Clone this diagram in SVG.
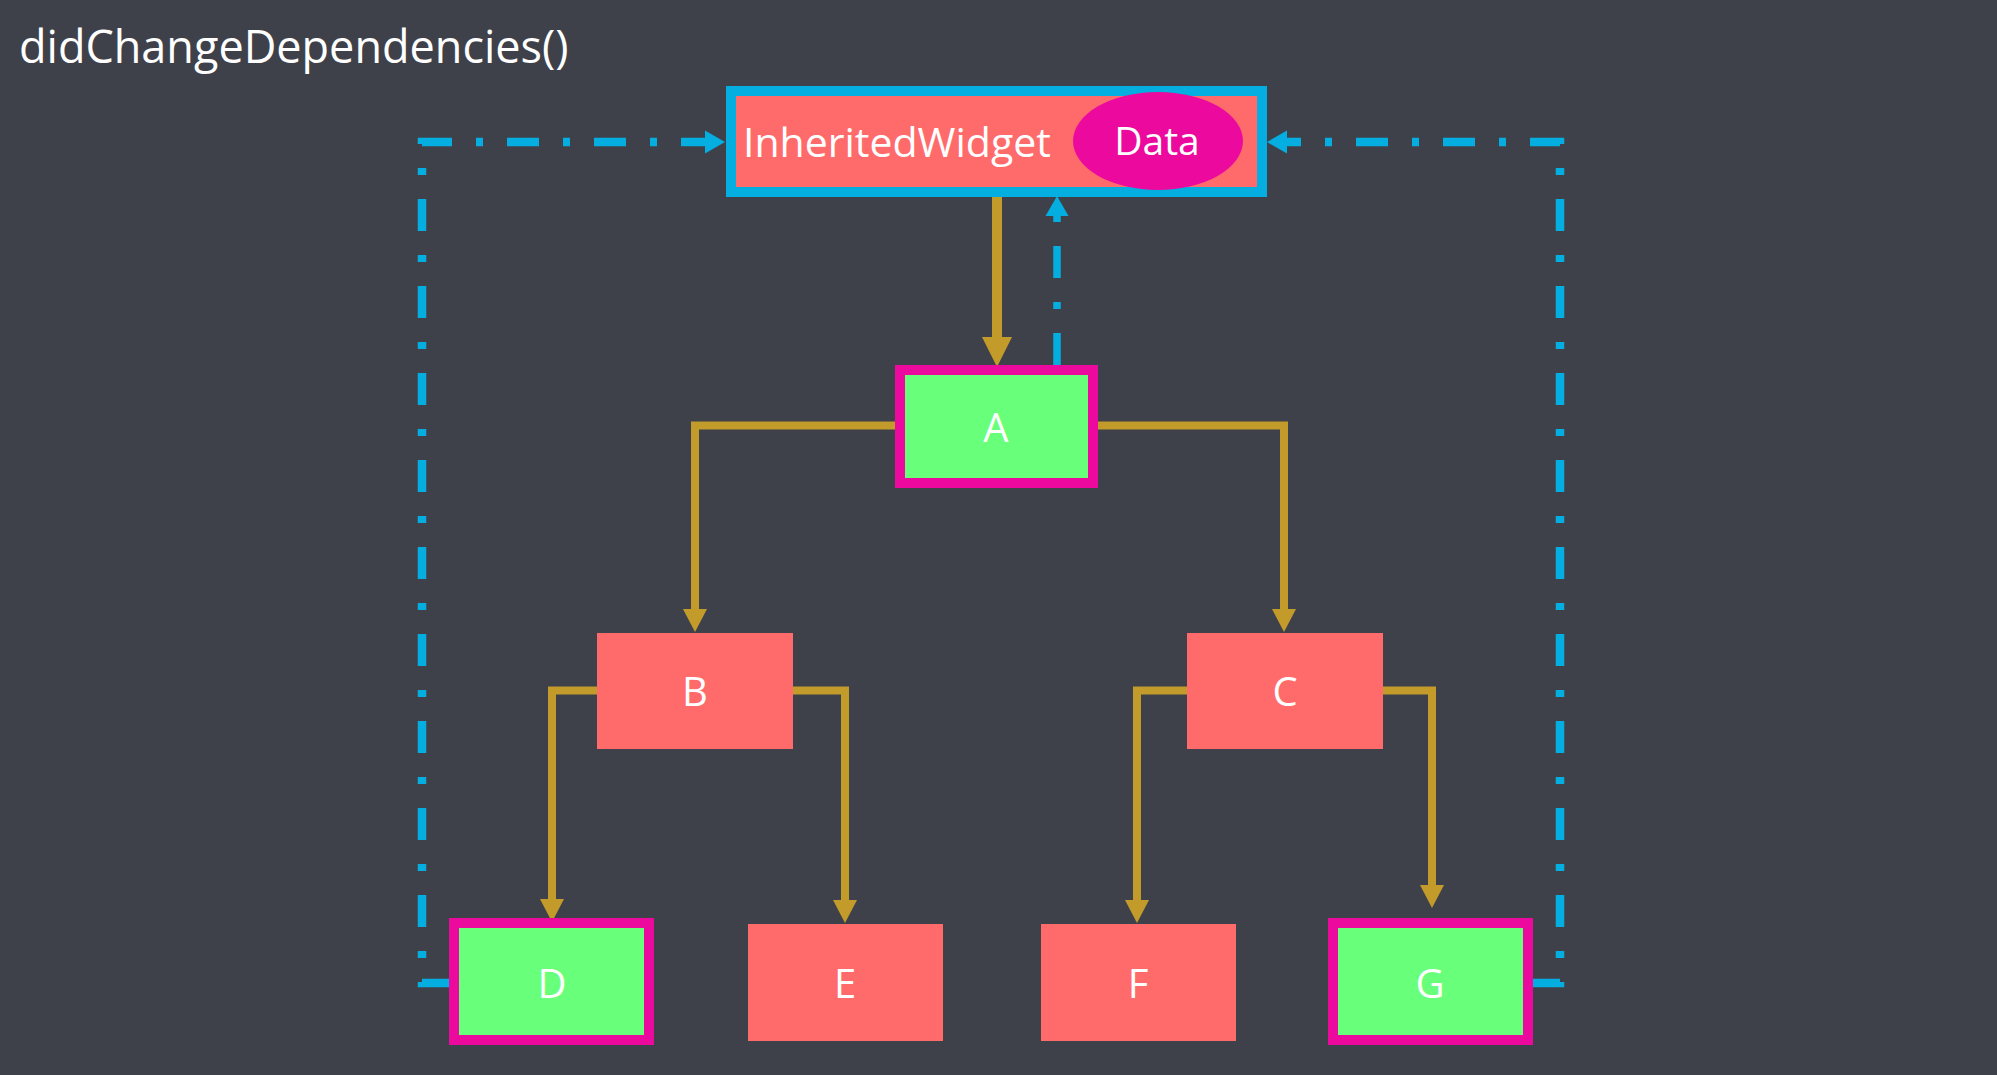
<svg xmlns="http://www.w3.org/2000/svg" width="1997" height="1075" viewBox="0 0 1997 1075">
<style>
.lbl{font-family:"Open Sans","Liberation Sans",sans-serif;fill:#FFFFFF;}
.node{font-size:40px;text-anchor:middle;}
.red{fill:#FF6B6B;}
.hi{fill:#68FF7A;stroke:#EC0A9E;stroke-width:10;}
.gold{fill:none;stroke:#C29B2B;stroke-width:8;}
.blue{fill:none;stroke:#05AEE0;stroke-width:8.5;stroke-dasharray:32 24 7 24;}
</style>
<defs>
<marker id="arB" markerUnits="userSpaceOnUse" markerWidth="20" markerHeight="23" refX="0" refY="11.5" orient="auto" overflow="visible">
<path d="M0,0 L20,11.5 L0,23 z" fill="#05AEE0"/>
</marker>
<marker id="arG" markerUnits="userSpaceOnUse" markerWidth="23" markerHeight="24" refX="0" refY="12" orient="auto" overflow="visible">
<path d="M0,0 L23,12 L0,24 z" fill="#C29B2B"/>
</marker>
<marker id="arGL" markerUnits="userSpaceOnUse" markerWidth="30" markerHeight="30" refX="0" refY="15" orient="auto" overflow="visible">
<path d="M0,0 L30,15 L0,30 z" fill="#C29B2B"/>
</marker>
</defs>
<rect x="0" y="0" width="1997" height="1075" fill="#3F414A"/>
<text class="lbl" x="19" y="63" font-size="45">didChangeDependencies()</text>

<g id="connectors">
<path class="gold" style="stroke-width:10" d="M997,197 V337" marker-end="url(#arGL)"/>
<path class="gold" d="M899,425.5 H695 V609" marker-end="url(#arG)"/>
<path class="gold" d="M1094,425.5 H1284 V609" marker-end="url(#arG)"/>
<path class="gold" d="M597,690.5 H552 V899" marker-end="url(#arG)"/>
<path class="gold" d="M793,690.5 H845 V900" marker-end="url(#arG)"/>
<path class="gold" d="M1187,690.5 H1137 V900" marker-end="url(#arG)"/>
<path class="gold" d="M1383,690.5 H1432 V885" marker-end="url(#arG)"/>
<path class="blue" d="M453,983 H422 V142 H705" marker-end="url(#arB)"/>
<path class="blue" d="M1529,983 H1560 V142 H1287" marker-end="url(#arB)"/>
<path class="blue" style="stroke-width:7.5" d="M1057,365 V216" marker-end="url(#arB)"/>
</g>

<g id="inherited">
<rect x="731" y="91" width="531" height="101" fill="#FF6B6B" stroke="#05AEE0" stroke-width="10"/>
<text class="lbl" x="743" y="157" font-size="41">InheritedWidget</text>
<ellipse cx="1158" cy="141" rx="85" ry="49" fill="#EC0A9E"/>
<text class="lbl" x="1157" y="155" font-size="39" text-anchor="middle">Data</text>
</g>
<g id="nodeA">
<rect class="hi" x="900" y="370" width="193" height="113"/>
<text class="lbl node" x="996" y="442">A</text>
</g>
<g id="nodeB">
<rect class="red" x="597" y="633" width="196" height="116"/>
<text class="lbl node" x="695" y="706">B</text>
</g>
<g id="nodeC">
<rect class="red" x="1187" y="633" width="196" height="116"/>
<text class="lbl node" x="1285" y="706">C</text>
</g>
<g id="nodeD">
<rect class="hi" x="454" y="923" width="195" height="117"/>
<text class="lbl node" x="552" y="998">D</text>
</g>
<g id="nodeE">
<rect class="red" x="748" y="924" width="195" height="117"/>
<text class="lbl node" x="845" y="998">E</text>
</g>
<g id="nodeF">
<rect class="red" x="1041" y="924" width="195" height="117"/>
<text class="lbl node" x="1138" y="998">F</text>
</g>
<g id="nodeG">
<rect class="hi" x="1333" y="923" width="195" height="117"/>
<text class="lbl node" x="1430" y="998">G</text>
</g>
</svg>
